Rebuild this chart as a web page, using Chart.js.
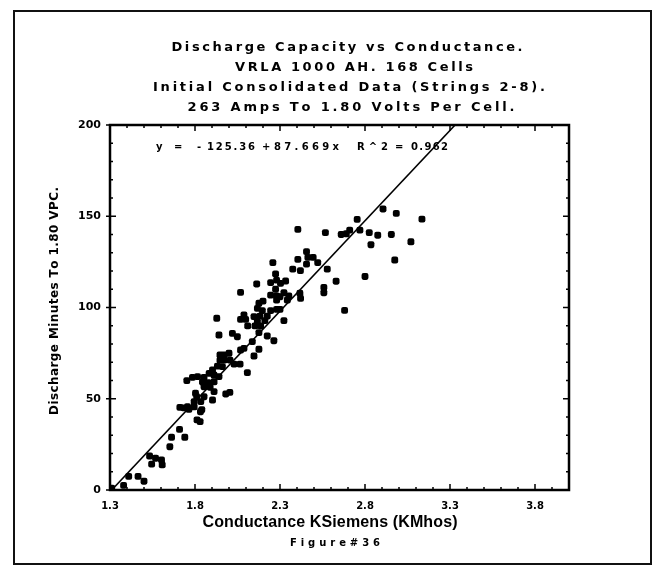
<!DOCTYPE html>
<html>
<head>
<meta charset="utf-8">
<script src="https://cdn.jsdelivr.net/npm/chart.js@4.4.0/dist/chart.umd.min.js"></script>
<style>
html,body{margin:0;padding:0;background:#fff;}
#wrap{width:664px;height:575px;}
</style>
</head>
<body>
<div id="wrap"><canvas id="c" width="664" height="575"></canvas></div>
<script>
// Measured data (conductance kS, discharge minutes)
const conductance = [
1.31,1.38,1.41,1.465,1.50,1.533,1.545,1.568,1.603,1.607,1.652,1.662,1.709,1.74,1.711,1.735,1.756,1.764,1.795,1.812,
1.83,1.832,1.84,1.795,1.834,1.81,1.853,1.803,1.752,1.785,1.815,1.853,1.844,1.877,1.853,1.889,1.903,1.912,1.912,1.883,
1.903,1.912,1.941,1.932,1.961,1.947,1.971,2.006,1.947,1.971,2.0,1.981,2.005,2.03,2.065,2.108,2.068,2.088,2.137,2.147,
2.176,1.941,2.02,2.049,2.176,2.225,2.264,2.11,2.153,2.186,2.167,2.211,2.068,2.098,2.088,2.147,2.182,2.225,1.928,2.167,
2.196,2.245,2.28,2.30,2.176,2.20,2.323,2.068,2.163,2.245,2.28,2.245,2.274,2.28,2.303,2.333,2.274,2.30,2.323,2.352,
2.343,2.28,2.417,2.421,2.258,2.375,2.42,2.405,2.405,2.456,2.464,2.495,2.522,2.456,2.558,2.558,2.578,2.567,2.63,2.66,
2.68,2.69,2.71,2.754,2.77,2.80,2.825,2.835,2.875,2.906,2.955,2.975,2.984,3.07,3.135
];
const minutes = [
1,2.5,7.5,7.5,4.8,18.6,14.2,17.4,16.5,13.8,23.7,28.9,33.2,28.9,45.3,45.0,45.6,44.2,45.6,38.4,
37.5,42.9,44,48.4,48.4,51.1,51.1,53,59.9,61.7,62.1,61.7,59.3,58.8,56.6,56.3,49.3,53.9,59.3,63.9,
65.8,63,62.1,67.9,67.6,71.2,71.2,71.2,74,74,74.9,52.6,53.5,69,69,64.3,76.7,77.6,81.3,73.4,
77.1,84.9,85.8,84,86.2,84.4,81.8,89.9,89.9,89.9,92.2,92.8,93.5,93.5,95.9,95,95.3,95.3,94.1,99.5,
98.3,98.3,99,99,102.3,103.5,92.8,108.3,112.9,106.8,106.3,113.6,118.4,115,113.2,114.5,110,105.9,108.1,106.3,
104.1,104.1,107.8,105,124.6,121,120.2,126.4,142.8,130.6,127.5,127.5,124.6,123.8,111,108.1,121,141,114.4,140,
98.4,140.4,142.4,148.3,142.4,117,141,134.4,139.6,154,140,126,151.6,136,148.4
];
// Regression line as drawn on the figure
const fitX = [1.31, 3.33];
const fitY = [0, 200];
// Axis ticks
const xTickValues = [1.3, 1.8, 2.3, 2.8, 3.3, 3.8];
const xTickLabels = ['1.3', '1.8', '2.3', '2.8', '3.3', '3.8'];
const yTickValues = [0, 50, 100, 150, 200];
const yTickLabels = ['0', '50', '100', '150', '200'];
const titleLines = [
  'Discharge Capacity vs Conductance.',
  'VRLA 1000 AH. 168 Cells',
  'Initial Consolidated Data (Strings 2-8).',
  '263 Amps To 1.80 Volts Per Cell.'
];
const xAxisTitle = 'Conductance KSiemens (KMhos)';
const yAxisTitle = 'Discharge Minutes To 1.80 VPC.';
const figureCaption = 'Figure#36';

const FF = '"Liberation Sans", Arial, sans-serif';
const FD = '"DejaVu Sans", sans-serif';

function spaced(ctx, str, cx, cy, w, font) {
  ctx.font = font;
  const chars = [...str];
  const ws = chars.map(c => ctx.measureText(c).width);
  const tot = ws.reduce((a, b) => a + b, 0);
  const gap = chars.length > 1 ? (w - tot) / (chars.length - 1) : 0;
  let x = cx - w / 2;
  ctx.textAlign = 'left';
  ctx.textBaseline = 'middle';
  chars.forEach((c, i) => { ctx.fillText(c, x, cy); x += ws[i] + gap; });
}
function spacedLeft(ctx, str, x0, x1, cy, font) {
  spaced(ctx, str, (x0 + x1) / 2, cy, x1 - x0, font);
}

const decor = {
  id: 'decor',
  beforeDatasetsDraw(chart) {
    const ctx = chart.ctx;
    ctx.save();
    ctx.fillStyle = '#000';
    const f = 'bold 10px ' + FD;
    const toks = [['y',156,162],['=',174,181],['-',197,201],['125.36',207,255],['+',262,269],['87.669x',274,339],['R^2',357,388],['=',395,402],['0.962',411,448]];
    toks.forEach(t => spacedLeft(ctx, t[0], t[1], t[2], 147, f));
    ctx.restore();
  },
  afterDraw(chart) {
    const ctx = chart.ctx;
    const a = chart.chartArea;
    const xs = chart.scales.x, ys = chart.scales.y;
    ctx.save();
    // outer frame
    ctx.strokeStyle = '#111';
    ctx.lineWidth = 2;
    ctx.strokeRect(14, 11, 637, 553);
    // plot frame
    ctx.strokeStyle = '#000';
    ctx.lineWidth = 2.5;
    ctx.strokeRect(a.left, a.top, a.right - a.left, a.bottom - a.top);
    // inward ticks
    ctx.lineWidth = 1.5;
    ctx.beginPath();
    for (let i = 13; i <= 40; i++) {
      const v = i / 10;
      const p = xs.getPixelForValue(v);
      const major = xTickValues.some(t => Math.abs(t - v) < 1e-6);
      const L = major ? 6 : 3;
      ctx.moveTo(p, a.bottom); ctx.lineTo(p, a.bottom - L);
      ctx.moveTo(p, a.top); ctx.lineTo(p, a.top + L);
    }
    for (let v = 0; v <= 200; v += 10) {
      const p = ys.getPixelForValue(v);
      const major = yTickValues.includes(v);
      const L = major ? 6 : 3;
      ctx.moveTo(a.left - (major ? 4 : 0), p); ctx.lineTo(a.left + L, p);
      ctx.moveTo(a.right, p); ctx.lineTo(a.right - L, p);
    }
    ctx.stroke();
    // titles
    ctx.fillStyle = '#000';
    const tf = 'bold 13px ' + FD;
    const tpos = [[347,48,351],[354,68,238],[349,88,392],[351,108,327]];
    titleLines.forEach((s, i) => spaced(ctx, s, tpos[i][0], tpos[i][1], tpos[i][2], tf));
    spaced(ctx, xAxisTitle, 330, 523, 255, 'bold 16px ' + FF);
    spaced(ctx, figureCaption, 335, 543, 90, 'bold 10px ' + FD);
    ctx.save();
    ctx.translate(55, 301);
    ctx.rotate(-Math.PI / 2);
    spaced(ctx, yAxisTitle, 0, 0, 228, 'bold 12px ' + FD);
    ctx.restore();
    ctx.restore();
  }
};

const pts = conductance.map((x, i) => ({ x: x, y: minutes[i] }));
const fitPts = fitX.map((x, i) => ({ x: x, y: fitY[i] }));

new Chart(document.getElementById('c'), {
  type: 'scatter',
  data: {
    datasets: [
      { type: 'line', data: fitPts, borderColor: '#000', borderWidth: 1.6, pointRadius: 0, showLine: true, fill: false },
      { data: pts, pointStyle: 'rectRounded', pointRadius: 4, backgroundColor: '#000', borderColor: '#000', borderWidth: 0 }
    ]
  },
  options: {
    responsive: false,
    animation: false,
    devicePixelRatio: 1,
    layout: { padding: { left: 0, top: 125, right: 95, bottom: 0 } },
    plugins: { legend: { display: false }, title: { display: false }, tooltip: { enabled: false } },
    scales: {
      x: {
        type: 'linear', min: 1.3, max: 4.0,
        afterBuildTicks: s => { s.ticks = xTickValues.map(v => ({ value: v })); },
        afterFit: s => { s.height = 85; },
        grid: { display: false, drawTicks: false },
        border: { display: false },
        ticks: { color: '#000', font: { family: FD, weight: 'bold', size: 10 }, padding: 10, maxRotation: 0, autoSkip: false,
                 callback: (v, i) => xTickLabels[i] }
      },
      y: {
        type: 'linear', min: 0, max: 200,
        afterBuildTicks: s => { s.ticks = yTickValues.map(v => ({ value: v })); },
        afterFit: s => { s.width = 110; },
        grid: { display: false, drawTicks: false },
        border: { display: false },
        ticks: { color: '#000', font: { family: FD, weight: 'bold', size: 11 }, padding: 9, autoSkip: false,
                 callback: (v, i) => yTickLabels[i] }
      }
    }
  },
  plugins: [decor]
});
</script>
</body>
</html>
